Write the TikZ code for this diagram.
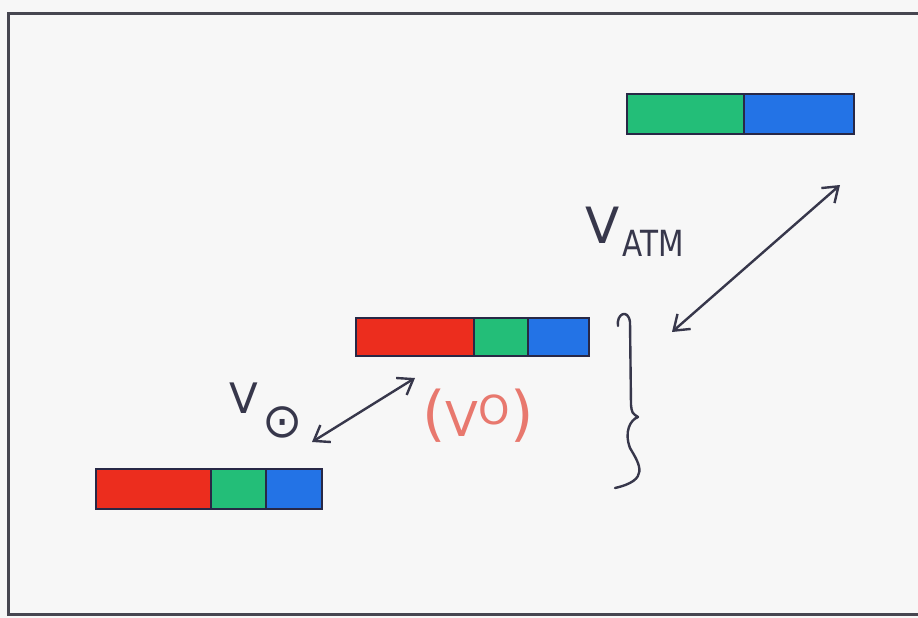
\documentclass[tikz,border=0pt]{standalone}
\usepackage{fontspec}
\setmainfont{DejaVu Sans}
\usetikzlibrary{arrows.meta}
\definecolor{bg}{RGB}{247,247,247}
\definecolor{frame}{RGB}{70,70,80}
\definecolor{ink}{RGB}{55,55,75}
\definecolor{barred}{RGB}{236,45,30}
\definecolor{bargreen}{RGB}{35,190,120}
\definecolor{barblue}{RGB}{35,115,230}
\definecolor{pinkink}{RGB}{232,120,110}
\definecolor{edge}{RGB}{40,40,70}
\tikzset{
  seg/.style={draw=edge, line width=2.4pt, anchor=north west, inner sep=0pt, minimum height=40pt},
  dbl/.style={draw=ink, line width=2.4pt, {Straight Barb[length=14pt,width=20pt]}-{Straight Barb[length=14pt,width=20pt]}},
  lbl/.style={inner sep=0pt, text=ink},
}
\begin{document}
\begin{tikzpicture}[x=1pt,y=-1pt]
\fill[bg] (0,0) rectangle (918,618);
\useasboundingbox (0,0) rectangle (918,618);
\draw[frame, line width=3pt] (918,14) -- (8,14) -- (8,614) -- (918,614);

% top bar
\node[seg, fill=bargreen, minimum width=117pt] (tg) at (626,93) {};
\node[seg, fill=barblue, minimum width=110pt] (tb) at (743,93) {};
% middle bar
\node[seg, fill=barred, minimum width=118pt, minimum height=38pt] (mr) at (355,317) {};
\node[seg, fill=bargreen, minimum width=54pt, minimum height=38pt] (mg) at (473,317) {};
\node[seg, fill=barblue, minimum width=61pt, minimum height=38pt] (mb) at (527,317) {};
% bottom bar
\node[seg, fill=barred, minimum width=115pt] (br) at (95,468) {};
\node[seg, fill=bargreen, minimum width=55pt] (bg) at (210,468) {};
\node[seg, fill=barblue, minimum width=56pt] (bb) at (265,468) {};

% arrows
\coordinate (atmA) at (840,185);
\coordinate (atmB) at (672,332);
\draw[dbl] (atmA) -- (atmB);
\coordinate (soA) at (415,378);
\coordinate (soB) at (312,442);
\draw[dbl] (soA) -- (soB);

% labels
\node[lbl, anchor=south west] (vatm) at (585,244) {\fontsize{50}{50}\selectfont V};
\node[lbl, anchor=south west] (atm) at (622,257) {\fontsize{36}{36}\selectfont\addfontfeature{FakeStretch=0.82}ATM};
\node[lbl, anchor=south west] (vsol) at (229,414) {\fontsize{42}{42}\selectfont V};
\node[lbl, anchor=center] (sol) at (283,422) {\fontsize{48}{48}\selectfont ⊙};
\node[lbl, text=pinkink, anchor=center] (vo) at (478,416) {\fontsize{60}{60}\selectfont (\raisebox{-2pt}{\fontsize{48}{48}\selectfont V}\raisebox{10pt}{\fontsize{40}{40}\selectfont O})};

% brace
\draw[ink, line width=2.4pt, line cap=round, line join=round]
  (618,326) .. controls (616,314) and (628,308) .. (630,322)
  -- (631,405) .. controls (632,413) .. (638,417)
  .. controls (630,420) and (624,432) .. (630,448)
  .. controls (640,465) and (650,480) .. (615,488);
\end{tikzpicture}
\end{document}
